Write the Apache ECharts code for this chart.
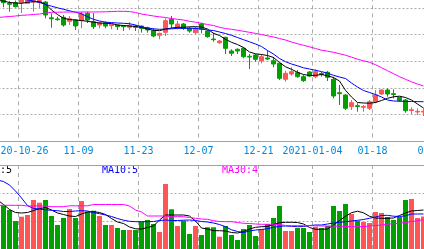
<!DOCTYPE html>
<html><head><meta charset="utf-8">
<script src="https://cdn.jsdelivr.net/npm/echarts@6/dist/echarts.min.js"></script>
<style>html,body{margin:0;padding:0;width:424px;height:249px;overflow:hidden;background:#fff}
#c{position:absolute;left:-100px;top:-100px;width:624px;height:449px}</style>
</head><body><div id="c"></div>
<script>
const dates = [
'2020-10-20','2020-10-21','2020-10-22','2020-10-23','2020-10-26','2020-10-27','2020-10-28','2020-10-29','2020-10-30',
'2020-11-02','2020-11-03','2020-11-04','2020-11-05','2020-11-06','2020-11-09','2020-11-10','2020-11-11','2020-11-12','2020-11-13',
'2020-11-16','2020-11-17','2020-11-18','2020-11-19','2020-11-20','2020-11-23','2020-11-24','2020-11-25','2020-11-26','2020-11-27','2020-11-30',
'2020-12-01','2020-12-02','2020-12-03','2020-12-04','2020-12-07','2020-12-08','2020-12-09','2020-12-10','2020-12-11',
'2020-12-14','2020-12-15','2020-12-16','2020-12-17','2020-12-18','2020-12-21','2020-12-22','2020-12-23','2020-12-24','2020-12-25',
'2020-12-28','2020-12-29','2020-12-30','2020-12-31',
'2021-01-04','2021-01-05','2021-01-06','2021-01-07','2021-01-08','2021-01-11','2021-01-12','2021-01-13','2021-01-14','2021-01-15',
'2021-01-18','2021-01-19','2021-01-20','2021-01-21','2021-01-22','2021-01-25','2021-01-26','2021-01-27','2021-01-28','2021-01-29','2021-02-01'];

const tickDates = ['2020-10-26','2020-11-09','2020-11-23','2020-12-07','2020-12-21','2021-01-04','2021-01-18','2021-02-01'];
const tickLabels = ['2020-10-26','11-09','11-23','12-07','12-21','2021-01-04','01-18','02-01'];

// [open, close, low, high]
const kline = [
['-','-','-','-'],
[27.6,27.13,26.67,27.8],[27.07,26.97,26.23,27.3],[27.13,26.73,26.65,27.35],[27.13,27.4,26.1,27.5],[27.07,27.4,27.0,27.55],
[27.2,27.37,26.23,27.5],[27.15,27.35,26.6,27.5],[27.2,25.9,25.57,27.3],[25.62,25.52,24.63,26.07],[25.5,25.43,25.33,25.73],
[25.67,24.9,24.73,25.9],[25.27,25.53,24.9,25.8],[25.4,24.8,24.4,25.5],[25.33,26.0,24.57,26.23],[26.07,25.4,25.1,26.23],
[25.23,24.73,24.5,26.1],[24.9,25.13,24.57,25.23],[25.13,24.8,24.57,25.27],[24.83,24.97,24.47,25.0],[24.9,24.73,24.4,24.93],
[24.83,24.73,24.3,24.9],[24.67,24.87,24.4,25.2],[24.8,24.67,24.3,24.9],[24.8,24.57,24.13,24.85],[24.63,24.4,24.13,24.73],
[24.33,23.8,23.67,24.57],[23.87,24.07,23.47,24.13],[24.17,25.33,23.8,25.57],[25.47,25.0,24.57,25.8],[24.67,25.0,24.47,25.33],
[25.0,24.57,24.4,25.1],[24.57,24.3,24.13,24.7],[24.13,24.57,24.0,24.73],[25.0,24.47,24.07,25.13],[24.3,23.73,23.63,24.4],
[23.5,23.43,23.23,24.13],[23.13,23.3,23.0,23.4],[23.67,22.57,22.0,23.73],[22.3,22.07,21.8,22.47],[22.47,22.3,22.0,22.57],
[22.57,21.73,21.57,22.7],[21.77,21.7,20.5,22.0],[21.9,21.47,21.23,22.0],[21.33,21.73,21.07,22.0],[21.6,21.5,21.4,22.33],
[21.33,21.0,20.67,21.67],[21.07,19.57,19.4,21.1],[19.47,20.07,19.23,20.33],[20.0,20.23,19.83,20.67],[20.13,19.73,19.63,20.4],
[19.73,19.33,19.2,19.9],[20.2,19.8,19.7,20.3],[19.73,20.23,19.57,20.47],[20.05,19.95,19.75,20.2],[20.17,19.67,19.3,20.3],
[19.47,17.8,17.57,19.73],[18.13,18.03,16.9,18.9],[17.9,16.57,16.4,18.0],[16.73,17.13,16.4,17.4],[16.83,16.75,16.23,17.07],
[16.67,16.75,16.23,16.9],[16.57,17.23,16.4,17.4],[17.23,17.9,17.07,18.4],[18.0,18.4,17.9,18.47],[18.4,18.0,17.73,18.57],
[18.03,17.95,17.57,18.47],[17.67,17.33,17.23,17.7],[17.4,16.33,16.13,17.5],[16.35,16.43,16.0,16.67],[16.2,16.27,15.9,16.57],
[16.2,16.27,15.8,16.57],
['-','-','-','-'],['-','-','-','-']];

const ma5 = [27.35,27.3,27.15,27.1,27.07,27.17,27.23,27.22,27.0,26.4,
25.95,25.57,25.45,25.4,25.35,25.27,25.18,25.1,25.07,25.05,
24.9,24.85,24.8,24.75,24.65,24.5,24.37,24.33,24.5,24.6,
24.67,24.67,24.72,24.73,24.7,24.5,24.07,23.85,23.47,23.17,
22.95,22.65,22.2,22.02,21.95,21.85,21.65,21.15,20.72,20.47,
20.17,19.95,19.85,19.87,19.95,19.82,19.65,19.3,18.37,17.7,
17.15,17.1,17.08,17.15,17.35,17.57,17.72,17.78,17.65,17.4,
17.0,16.6,'-','-'];
const ma10 = [28.0,27.9,27.75,27.65,27.55,27.4,27.3,27.15,26.95,26.78,
26.62,26.47,26.32,26.18,26.02,25.73,25.47,25.3,25.18,25.14,
25.1,25.07,25.03,24.9,24.72,24.6,24.52,24.47,24.48,24.52,
24.56,24.57,24.57,24.56,24.5,24.4,24.35,24.2,24.05,23.87,
23.65,23.43,23.22,23.0,22.75,22.35,22.0,21.55,21.23,21.0,
20.82,20.62,20.5,20.37,20.24,20.08,19.87,19.7,19.55,19.1,
18.7,18.35,18.15,17.95,17.7,17.4,17.3,17.28,17.26,17.25,
17.24,17.23,'-','-'];
const ma30 = [25.65,25.7,25.75,25.8,25.87,25.9,25.95,26.0,26.1,26.17,
26.18,26.19,26.2,26.2,26.2,26.2,26.2,26.21,26.22,26.25,
26.27,26.27,26.25,26.15,26.0,25.9,25.8,25.72,25.65,25.55,
25.47,25.4,25.27,25.18,25.07,24.95,24.85,24.67,24.55,24.47,
24.38,24.27,24.17,24.06,23.95,23.82,23.7,23.55,23.4,23.2,
23.03,22.87,22.72,22.55,22.38,22.28,22.17,22.03,21.88,21.68,
21.48,21.32,21.17,20.93,20.63,20.33,20.03,19.73,19.47,19.22,
19.0,18.8,'-','-'];

const volumes = ['-',43800,39300,28300,32600,34300,49300,46600,49300,33300,
24300,31300,40300,31300,48300,37600,38600,33300,24300,24300,
21300,19300,19300,19300,27600,29300,25300,17300,65300,40000,
23300,28600,15300,23300,14300,22000,22000,12600,23300,14300,
9300,20300,24300,13300,20300,25300,31300,43300,18300,18300,
21300,21300,17300,22600,21300,23300,43300,38300,45300,35300,
28600,27300,26300,37300,36300,32300,29300,32300,49300,50300,
31300,32800,'-','-'];
const volMa5 = [49300,44800,39800,36800,36300,36800,38800,40600,41800,39300,
36300,34800,33300,32800,35300,37300,37600,36800,34800,30800,
27300,25800,22300,20500,20300,21800,23300,29300,34300,34300,
34300,34300,33300,28300,21300,20300,18600,18600,18300,16800,
16300,17800,20300,22000,22600,22800,24800,26600,27000,27000,
26800,25300,21800,20000,20000,20300,24300,28800,33000,36600,
38100,36500,33000,31300,31000,31000,31300,33800,36300,38300,
38800,39300,'-','-'];
const volMa10 = [69300,67800,64300,58300,51300,43800,40800,40300,39500,39000,
38600,37800,37800,38300,38600,38300,36800,35600,34300,32800,
30800,29100,28000,27600,27600,27600,27800,28800,29300,28800,
28800,29100,29300,28800,27800,27300,26300,24800,22600,19500,
17800,16800,18300,19300,19800,20600,22000,23000,23300,23000,
22600,22800,23800,24300,24300,25300,26300,27000,27600,28300,
29000,29800,31000,32300,33800,34000,33100,32800,33500,35300,
35300,35300,'-','-'];
const volMa30 = [44000,44000,44000,44000,44000,43300,43300,43300,43300,42600,
42600,42600,43500,43500,43500,43500,44800,44800,44800,44800,
44800,44800,43300,39300,37300,33300,33300,33300,33300,32600,
32600,32600,31800,31000,30300,30000,28600,27800,27600,27600,
26800,26000,25800,25300,25000,25000,25000,24800,23800,23600,
23600,23600,23600,23600,23300,23300,23300,23100,22800,22600,
22600,22800,23300,23800,24300,25100,25600,26000,26800,27800,
28600,29800,'-','-'];

const UP = '#ff5555', DOWN = '#00a000';
const GRID_GRAY = '#aaaaaa', AXIS_GRAY = '#a0a0a0';
const MONO = 'DejaVu Sans Mono';
const isTick = (idx, val) => tickDates.indexOf(val) >= 0;

const chart = echarts.init(document.getElementById('c'), null, {renderer: 'canvas'});
const maLine = (name, data, color, xi) => ({
  name, type: 'line', data, xAxisIndex: xi, yAxisIndex: xi,
  symbol: 'none', showSymbol: false, silent: true,
  lineStyle: {color, width: 1}, itemStyle: {color}
});
chart.setOption({
  animation: false,
  backgroundColor: '#ffffff',
  grid: [
    {left: 94.5, right: 85.5, top: 81.4, bottom: 208, outerBoundsMode: 'none'},
    {left: 94.5, right: 85.5, top: 265, bottom: 99.7, outerBoundsMode: 'none'}
  ],
  xAxis: [
    {type: 'category', data: dates, gridIndex: 0, boundaryGap: true,
     axisLine: {onZero: false, lineStyle: {color: AXIS_GRAY, width: 1}},
     axisTick: {show: false},
     axisLabel: {interval: isTick, formatter: v => tickLabels[tickDates.indexOf(v)],
       color: '#0088dd', fontFamily: MONO, fontSize: 10, margin: 5, padding: [0, 6, 0, 0]},
     splitLine: {show: true, interval: isTick, lineStyle: {color: GRID_GRAY, width: 1, type: [4, 4]}}},
    {type: 'category', data: dates, gridIndex: 1, boundaryGap: true, position: 'top',
     axisLine: {onZero: false, lineStyle: {color: AXIS_GRAY, width: 1}},
     axisTick: {show: false}, axisLabel: {show: false},
     splitLine: {show: true, interval: isTick, lineStyle: {color: GRID_GRAY, width: 1, type: [4, 4]}}}
  ],
  yAxis: [
    {type: 'value', gridIndex: 0, min: 13.3, max: 29.26, interval: 2.66,
     axisLine: {show: false}, axisTick: {show: false}, axisLabel: {show: false},
     splitLine: {show: true, lineStyle: {color: GRID_GRAY, width: 1, type: [2, 2]}}},
    {type: 'value', gridIndex: 1, min: 0, max: 84300, interval: 28100,
     axisLine: {show: false}, axisTick: {show: false}, axisLabel: {show: false},
     splitLine: {show: true, lineStyle: {color: GRID_GRAY, width: 1, type: [2, 2]}}}
  ],
  graphic: [
    {type: 'text', left: 82, top: 265, style: {text: 'MA5:5', fill: '#000000', font: '10px "DejaVu Sans Mono"'}},
    {type: 'text', left: 202, top: 265, style: {text: 'MA10:5', fill: '#0000ff', font: '10px "DejaVu Sans Mono"'}},
    {type: 'text', left: 322, top: 265, style: {text: 'MA30:4', fill: '#ff00ff', font: '10px "DejaVu Sans Mono"'}}
  ],
  series: [
    {name: 'K', type: 'candlestick', data: kline, xAxisIndex: 0, yAxisIndex: 0, barWidth: 4, silent: true,
     itemStyle: {color: UP, color0: DOWN, borderColor: UP, borderColor0: DOWN, borderWidth: 1}},
    maLine('MA5', ma5, '#000000', 0),
    maLine('MA10', ma10, '#0000ff', 0),
    maLine('MA30', ma30, '#ff00ff', 0),
    {name: 'VOL', type: 'bar', data: volumes, xAxisIndex: 1, yAxisIndex: 1, barWidth: 5, silent: true,
     itemStyle: {color: p => { const k = kline[p.dataIndex]; return k[1] >= k[0] ? UP : DOWN; }}},
    maLine('VMA5', volMa5, '#000000', 1),
    maLine('VMA10', volMa10, '#0000ff', 1),
    maLine('VMA30', volMa30, '#ff00ff', 1)
  ]
});
</script></body></html>
